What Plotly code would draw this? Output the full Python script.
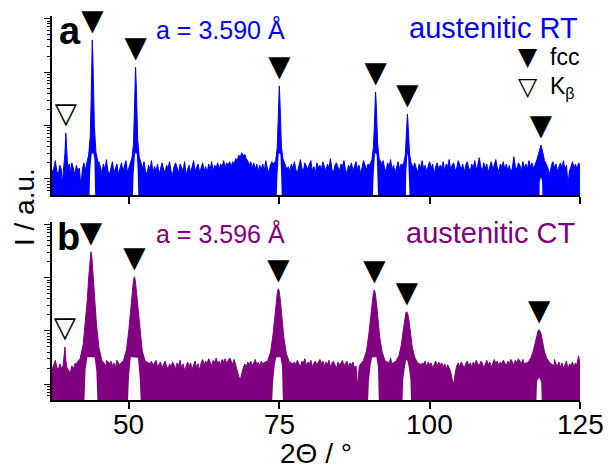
import numpy as np
import plotly.graph_objects as go

# ---------------- data ----------------
# background intensity sampled every 0.25 deg from 37.0 to 125.0 (2theta)
grid_start, grid_step = 37.0, 0.25
rt_background = [
    19, 13, 16, 22, 14, 12, 18, 15, 21, 13, 12, 16, 19, 13, 20, 15, 12, 18, 14, 16,
    7, 15, 20, 14, 17, 13, 19, 22, 15, 12, 18, 14, 21, 16, 13, 19, 15, 23, 14, 12,
    17, 21, 13, 16, 19, 12, 15, 20, 14, 17, 22, 13, 16, 12, 18, 15, 20, 14, 17, 19,
    13, 16, 21, 14, 12, 18, 15, 22, 13, 17, 14, 19, 12, 16, 20, 15, 13, 18, 16, 21,
    14, 12, 17, 20, 15, 13, 19, 16, 14, 21, 12, 15, 18, 13, 17, 22, 14, 16, 19, 13,
    16, 20, 14, 17, 13, 19, 15, 21, 14, 18, 16, 20, 15, 19, 17, 22, 16, 20, 18, 21,
    17, 21, 19, 24, 22, 28, 25, 31, 27, 29, 24, 22, 18, 21, 16, 20, 15, 19, 14, 18,
    15, 19, 14, 22, 16, 13, 18, 21, 15, 17, 20, 14, 16, 19, 13, 18, 22, 15, 17, 14,
    19, 16, 21, 15, 13, 18, 23, 16, 14, 20, 17, 15, 19, 22, 14, 17, 13, 20, 16, 18,
    15, 21, 17, 14, 19, 16, 24, 15, 13, 18, 20, 16, 14, 19, 17, 22, 15, 13, 18, 16,
    20, 14, 17, 21, 15, 18, 13, 16, 22, 17, 15, 19, 14, 18, 21, 16, 14, 20, 17, 15,
    19, 22, 16, 14, 20, 17, 23, 15, 18, 13, 16, 21, 15, 19, 17, 14, 20, 16, 18, 22,
    14, 17, 20, 15, 13, 19, 16, 22, 15, 18, 14, 17, 21, 16, 19, 12, 17, 20, 15, 18,
    16, 21, 14, 19, 17, 23, 15, 18, 20, 14, 16, 22, 17, 15, 19, 13, 18, 21, 16, 14,
    19, 16, 22, 15, 18, 25, 17, 14, 20, 16, 19, 13, 17, 21, 15, 18, 23, 16, 14, 19,
    17, 21, 15, 19, 14, 18, 13, 16, 26, 17, 15, 20, 18, 14, 21, 16, 19, 15, 22, 17,
    20, 16, 23, 18, 15, 21, 17, 14, 19, 16, 22, 15, 12, 18, 21, 16, 19, 14, 17, 20,
    16, 22, 15, 18, 8, 14, 17, 21, 16, 19, 15, 20, 18,
]
ct_background = [
    25, 19, 23, 28, 21, 18, 24, 20, 26, 17, 15, 21, 18, 16, 22, 19, 24, 20, 27, 23,
    25, 29, 33, 38, 45, 60, 90, 150, 400, 1000, 2000, 1500, 600, 200, 80, 45, 32, 28, 26, 24,
    27, 22, 25, 20, 28, 24, 30, 26, 33, 29, 35, 40, 50, 70, 100, 80, 55, 40, 33, 30,
    35, 30, 32, 28, 26, 29, 24, 27, 22, 25, 28, 21, 24, 26, 20, 23, 27, 22, 19, 24,
    21, 26, 23, 19, 25, 22, 28, 20, 24, 18, 23, 26, 21, 25, 19, 22, 27, 20, 24, 18,
    25, 29, 23, 27, 24, 30, 26, 22, 28, 25, 31, 24, 27, 23, 29, 26, 30, 24, 28, 31,
    27, 24, 29, 22, 19, 14, 12, 16, 20, 24, 21, 26, 23, 27, 22, 25, 29, 23, 26, 22,
    27, 24, 28, 30, 35, 50, 90, 200, 500, 400, 150, 60, 38, 30, 27, 25, 29, 24, 26, 23,
    28, 25, 26, 23, 28, 24, 21, 27, 25, 30, 22, 26, 24, 28, 21, 25, 27, 23, 26, 29,
    24, 27, 22, 26, 23, 28, 21, 25, 27, 24, 20, 26, 23, 25, 28, 22, 24, 27, 21, 25,
    23, 26, 20, 22, 9, 18, 24, 28, 30, 35, 50, 90, 300, 500, 300, 100, 50, 35, 30, 28,
    26, 28, 27, 24, 29, 30, 31, 38, 45, 70, 150, 220, 180, 90, 50, 35, 30, 28, 27, 25,
    27, 25, 29, 23, 26, 28, 22, 25, 24, 27, 21, 26, 23, 25, 20, 24, 27, 22, 26, 23,
    25, 21, 24, 19, 23, 20, 17, 12, 10, 16, 22, 25, 21, 26, 23, 20, 24, 27, 22, 25,
    21, 26, 23, 28, 24, 22, 27, 25, 20, 24, 28, 23, 26, 21, 25, 29, 24, 27, 22, 26,
    24, 28, 25, 22, 27, 24, 29, 26, 23, 28, 25, 30, 26, 24, 29, 27, 31, 28, 33, 35,
    38, 45, 55, 70, 90, 100, 90, 70, 55, 45, 38, 33, 30, 28, 26, 29, 24, 22, 26, 21,
    25, 20, 23, 27, 19, 24, 22, 26, 21, 25, 23, 34, 24,
]

# K-beta reflection
kb_offsets = [-0.6, -0.3, -0.15, 0.0, 0.15, 0.3, 0.6]
rt_kb_pos = 39.5
rt_kb_vals = [8, 16, 30, 72, 28, 17, 19]
ct_kb_pos = 39.35
ct_kb_vals = [20, 22, 30, 50, 28, 21, 18]

# fcc reflections, austenitic RT (narrow)
rt_peak_offsets = [-1.0, -0.6, -0.35, -0.2, -0.1, 0.0, 0.1, 0.2, 0.35, 0.6, 1.0]
rt_peak_pos = [43.9, 51.1, 75.0, 91.0, 96.3, 118.5]
rt_peak_vals = [
    [18, 28, 60, 260, 1400, 4000, 1800, 420, 95, 32, 19],
    [17, 25, 45, 140, 560, 1230, 600, 170, 55, 26, 18],
    [19, 22, 38, 90, 270, 550, 300, 110, 40, 24, 17],
    [18, 23, 40, 95, 240, 425, 280, 110, 45, 24, 19],
    [17, 20, 28, 50, 105, 163, 110, 55, 30, 20, 16],
    [18, 24, 30, 35, 40, 43, 40, 36, 30, 22, 18],
]

# fcc reflections, austenitic CT (broad)
ct_peak_offsets = [-2.5, -1.8, -1.3, -0.9, -0.6, -0.35, -0.15, 0.0,
                   0.15, 0.35, 0.6, 0.9, 1.3, 1.8, 2.5]
ct_peak_pos = [43.68, 50.9, 74.85, 90.8, 96.2, 118.2]
ct_peak_vals = [
    [24, 30, 55, 150, 400, 1100, 2500, 3100, 2400, 1050, 380, 140, 50, 28, 22],
    [23, 28, 45, 110, 260, 560, 920, 1050, 900, 540, 250, 100, 42, 27, 24],
    [25, 27, 40, 85, 190, 370, 560, 620, 540, 350, 170, 75, 38, 26, 24],
    [22, 28, 42, 90, 190, 360, 530, 590, 520, 340, 170, 75, 40, 27, 25],
    [24, 27, 34, 55, 100, 170, 220, 230, 210, 160, 95, 50, 32, 25, 23],
    [24, 26, 32, 45, 65, 90, 102, 105, 100, 85, 60, 40, 30, 25, 22],
]

x_ticks = [50, 75, 100, 125]
x_tick_labels = ["50", "75", "100", "125"]

# ---------------- styling ----------------
BLUE = "#0000FF"
PURPLE = "#800080"
FONT = "Liberation Sans, Arial, sans-serif"
SYMFONT = "DejaVu Sans"
X_RANGE = [37.2, 125.0]
Y_RANGE = [0.7, 4.05]          # log10
FLOOR = 1.0                     # below visible range
MARK_FACTOR = 2.1               # marker placed this factor above the peak top
TRI_SIZE = 29
LEG_TRI_SIZE = 25


def build_pattern(bg, kb_pos, kb_vals, pos, offs, vals):
    grid = grid_start + grid_step * np.arange(len(bg))
    windows = [(kb_pos, max(abs(o) for o in kb_offsets))]
    windows += [(p, max(abs(o) for o in offs)) for p in pos]
    pts = [(x, y) for x, y in zip(grid, bg)
           if all(abs(x - c) > w + 1e-9 for c, w in windows)]
    pts += [(kb_pos + o, v) for o, v in zip(kb_offsets, kb_vals)]
    for p, vs in zip(pos, vals):
        pts += [(p + o, v) for o, v in zip(offs, vs)]
    pts.sort()
    return [p[0] for p in pts], [p[1] for p in pts]


def build_holes(pos, offs, vals, scale, cap, thresh):
    hx, hy = [], []
    for p, vs in zip(pos, vals):
        xs = [p + o for o in offs]
        ys = [min(cap, v / scale) if v >= thresh else FLOOR for v in vs]
        hx += [xs[0]] + xs + [xs[-1], None]
        hy += [FLOOR] + ys + [FLOOR, None]
    return hx, hy


fig = go.Figure()

panels = [
    dict(bg=rt_background, kb_pos=rt_kb_pos, kb_vals=rt_kb_vals, pos=rt_peak_pos,
         offs=rt_peak_offsets, vals=rt_peak_vals, color=BLUE, xa="x", ya="y",
         scale=4.0, cap=30.0, thresh=35.0),
    dict(bg=ct_background, kb_pos=ct_kb_pos, kb_vals=ct_kb_vals, pos=ct_peak_pos,
         offs=ct_peak_offsets, vals=ct_peak_vals, color=PURPLE, xa="x2", ya="y2",
         scale=8.0, cap=32.0, thresh=80.0),
]

for pn in panels:
    xs, ys = build_pattern(pn["bg"], pn["kb_pos"], pn["kb_vals"], pn["pos"],
                           pn["offs"], pn["vals"])
    poly_x = xs + [xs[-1], xs[0]]
    poly_y = ys + [FLOOR, FLOOR]
    fig.add_trace(go.Scatter(x=poly_x, y=poly_y, mode="lines", fill="toself",
                             fillcolor=pn["color"], line=dict(color=pn["color"], width=1),
                             xaxis=pn["xa"], yaxis=pn["ya"], showlegend=False,
                             hoverinfo="skip"))
    hx, hy = build_holes(pn["pos"], pn["offs"], pn["vals"], pn["scale"],
                         pn["cap"], pn["thresh"])
    fig.add_trace(go.Scatter(x=hx, y=hy, mode="lines", fill="toself",
                             fillcolor="white", line=dict(color="white", width=0),
                             xaxis=pn["xa"], yaxis=pn["ya"], showlegend=False,
                             hoverinfo="skip"))
    # peak markers (triangle glyphs)
    tops = [max(v) * MARK_FACTOR for v in pn["vals"]]
    fig.add_trace(go.Scatter(x=pn["pos"], y=tops, mode="text", text=["▼"] * len(tops),
                             textposition="middle center", cliponaxis=False,
                             textfont=dict(family=SYMFONT, size=TRI_SIZE, color="black"),
                             xaxis=pn["xa"], yaxis=pn["ya"], showlegend=False))
    fig.add_trace(go.Scatter(x=[pn["kb_pos"]], y=[max(pn["kb_vals"]) * MARK_FACTOR],
                             mode="text", text=["▽"], textposition="middle center",
                             cliponaxis=False,
                             textfont=dict(family=SYMFONT, size=TRI_SIZE, color="black"),
                             xaxis=pn["xa"], yaxis=pn["ya"], showlegend=False))

ann = [
    dict(text="▼", x=0.901, y=0.894, xanchor="center", yanchor="middle",
         font=dict(family=SYMFONT, size=LEG_TRI_SIZE, color="black")),
    dict(text="▽", x=0.901, y=0.817, xanchor="center", yanchor="middle",
         font=dict(family=SYMFONT, size=LEG_TRI_SIZE, color="black")),
    dict(text="<b>a</b>", x=0.009, y=0.962, xanchor="left", yanchor="middle",
         font=dict(size=38, color="black")),
    dict(text="a = 3.590 Å", x=0.1932, y=0.965, xanchor="left", yanchor="middle",
         font=dict(size=25, color=BLUE)),
    dict(text="austenitic RT", x=1.0, y=0.968, xanchor="right", yanchor="middle",
         font=dict(size=29, color=BLUE)),
    dict(text="fcc", x=0.939, y=0.893, xanchor="left", yanchor="middle",
         font=dict(size=23, color="black")),
    dict(text="K<sub>β</sub>", x=0.939, y=0.815, xanchor="left", yanchor="middle",
         font=dict(size=23, color="black")),
    dict(text="<b>b</b>", x=0.005, y=0.4245, xanchor="left", yanchor="middle",
         font=dict(size=38, color="black")),
    dict(text="a = 3.596 Å", x=0.1932, y=0.4336, xanchor="left", yanchor="middle",
         font=dict(size=25, color=PURPLE)),
    dict(text="austenitic CT", x=0.996, y=0.435, xanchor="right", yanchor="middle",
         font=dict(size=29, color=PURPLE)),
    dict(text="2Θ / °", x=0.5, y=-0.140, xanchor="center", yanchor="middle",
         font=dict(size=28, color="black")),
    dict(text="I / a.u.", x=-0.053, y=0.5026, xanchor="center", yanchor="middle",
         textangle=-90, font=dict(size=28, color="black")),
]
for a in ann:
    a.update(xref="paper", yref="paper", showarrow=False)
# x tick labels of the bottom panel, placed at the tick values
for v, lab in zip(x_ticks, x_tick_labels):
    ann.append(dict(text=lab, x=v, xref="x2", y=-0.0625, yref="paper",
                    xanchor="center", yanchor="middle", showarrow=False,
                    font=dict(size=28, color="black")))

axis_common = dict(showline=True, linecolor="black", linewidth=1.5, mirror=False,
                   showgrid=False, zeroline=False, automargin=False)
xcommon = dict(axis_common, range=X_RANGE, tickvals=x_ticks, ticks="outside",
               ticklen=7, tickwidth=1.5, tickcolor="black", showticklabels=False)
ycommon = dict(axis_common, type="log", range=Y_RANGE, dtick=1, ticks="outside",
               ticklen=6, tickwidth=1.2, tickcolor="black", showticklabels=False,
               minor=dict(ticks="outside", ticklen=3, tickwidth=1, tickcolor="black",
                          dtick="D1", showgrid=False))

fig.update_layout(
    width=608, height=469,
    margin=dict(l=52, r=28, t=16, b=69, autoexpand=False),
    plot_bgcolor="white", paper_bgcolor="white",
    font=dict(family=FONT, color="black", size=20),
    xaxis=dict(xcommon, domain=[0, 1], anchor="y"),
    yaxis=dict(ycommon, domain=[0.534, 1.0], anchor="x"),
    xaxis2=dict(xcommon, domain=[0, 1], anchor="y2"),
    yaxis2=dict(ycommon, domain=[0.0, 0.4635], anchor="x2"),
    showlegend=False,
    annotations=ann,
)

# remove the default 8 px page margin so the figure fills the window exactly
fig.write_html("out.html", config={"displayModeBar": False},
               post_script="document.body.style.margin='0px';")
